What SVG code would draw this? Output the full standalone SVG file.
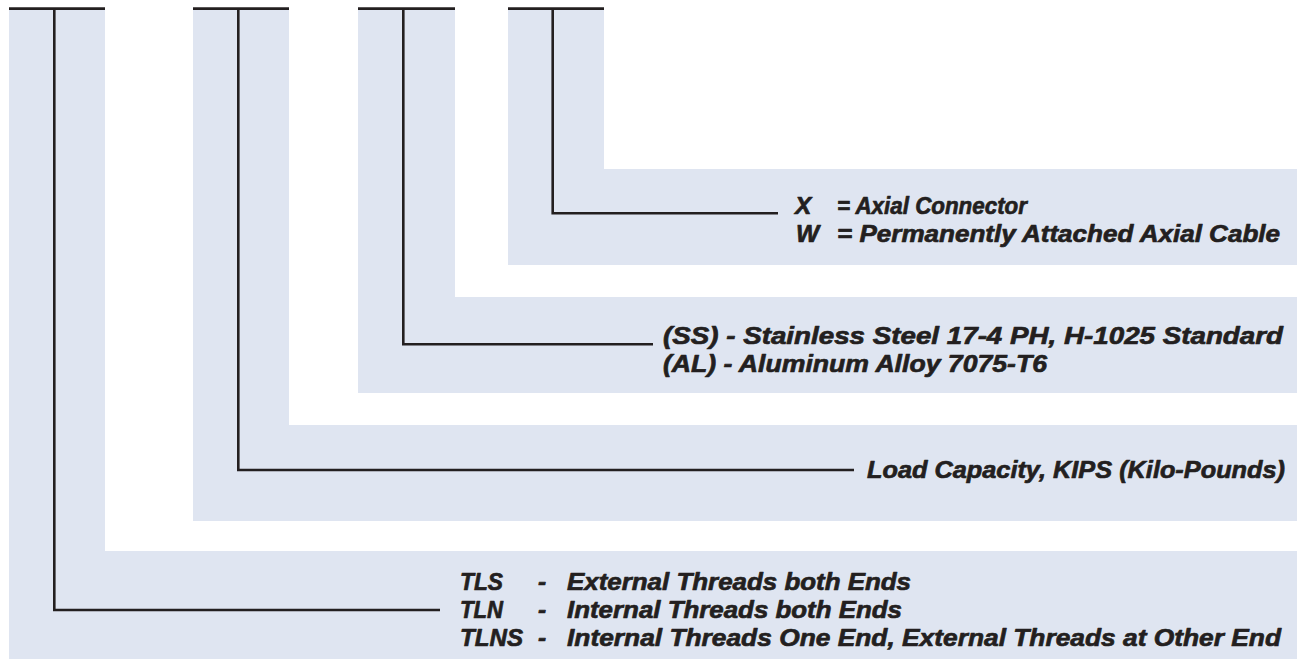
<svg xmlns="http://www.w3.org/2000/svg" width="1297" height="659" viewBox="0 0 1297 659">
  <style>
    .band { fill: #dfe5f1; stroke: none; }
    .conn { fill: none; stroke: #231f20; stroke-width: 2.6; stroke-linejoin: miter; stroke-linecap: butt; }
    .bar { fill: none; stroke: #231f20; stroke-width: 2.8; }
    .t { font-family: "Liberation Sans", Arial, sans-serif; font-weight: bold; font-style: italic; font-size: 24.5px; fill: #231f20; stroke: #231f20; stroke-width: 0.7; stroke-linejoin: round; }
  </style>
  <rect width="1297" height="659" fill="#ffffff"/>

  <g id="node-model">
    <path class="band" d="M9,10 H105 V551 H1297 V659 H9 Z"/>
    <text class="t" x="460" y="590" textLength="43" lengthAdjust="spacingAndGlyphs">TLS</text>
    <text class="t" x="538" y="590">-</text>
    <text class="t" x="567" y="590" textLength="344" lengthAdjust="spacingAndGlyphs">External Threads both Ends</text>
    <text class="t" x="460" y="618" textLength="43" lengthAdjust="spacingAndGlyphs">TLN</text>
    <text class="t" x="538" y="618">-</text>
    <text class="t" x="567" y="618" textLength="335" lengthAdjust="spacingAndGlyphs">Internal Threads both Ends</text>
    <text class="t" x="460" y="646" textLength="63" lengthAdjust="spacingAndGlyphs">TLNS</text>
    <text class="t" x="538" y="646">-</text>
    <text class="t" x="567" y="646" textLength="714" lengthAdjust="spacingAndGlyphs">Internal Threads One End, External Threads at Other End</text>
  </g>

  <g id="node-capacity">
    <path class="band" d="M193,10 H289 V425 H1297 V521 H193 Z"/>
    <text class="t" x="867" y="478" textLength="418" lengthAdjust="spacingAndGlyphs">Load Capacity, KIPS (Kilo-Pounds)</text>
  </g>

  <g id="node-material">
    <path class="band" d="M358,10 H455 V297 H1297 V393 H358 Z"/>
    <text class="t" x="663" y="344" textLength="620" lengthAdjust="spacingAndGlyphs">(SS) - Stainless Steel 17-4 PH, H-1025 Standard</text>
    <text class="t" x="663" y="372" textLength="384" lengthAdjust="spacingAndGlyphs">(AL) - Aluminum Alloy 7075-T6</text>
  </g>

  <g id="node-connector">
    <path class="band" d="M508,10 H604 V169 H1297 V265 H508 Z"/>
    <text class="t" x="795" y="214">X</text>
    <text class="t" x="837" y="214" textLength="190" lengthAdjust="spacingAndGlyphs">= Axial Connector</text>
    <text class="t" x="796" y="242">W</text>
    <text class="t" x="837" y="242" textLength="443" lengthAdjust="spacingAndGlyphs">= Permanently Attached Axial Cable</text>
  </g>

  <g id="connectors">
    <line class="bar" x1="9" y1="8.7" x2="105" y2="8.7"/>
    <line class="bar" x1="193" y1="8.7" x2="289" y2="8.7"/>
    <line class="bar" x1="358" y1="8.7" x2="455" y2="8.7"/>
    <line class="bar" x1="508" y1="8.7" x2="604" y2="8.7"/>
    <path class="conn" d="M54.3,8.7 V610 H440"/>
    <path class="conn" d="M238.3,8.7 V470 H854"/>
    <path class="conn" d="M403.3,8.7 V344.3 H653"/>
    <path class="conn" d="M552.7,8.7 V213.3 H778"/>
  </g>
</svg>
